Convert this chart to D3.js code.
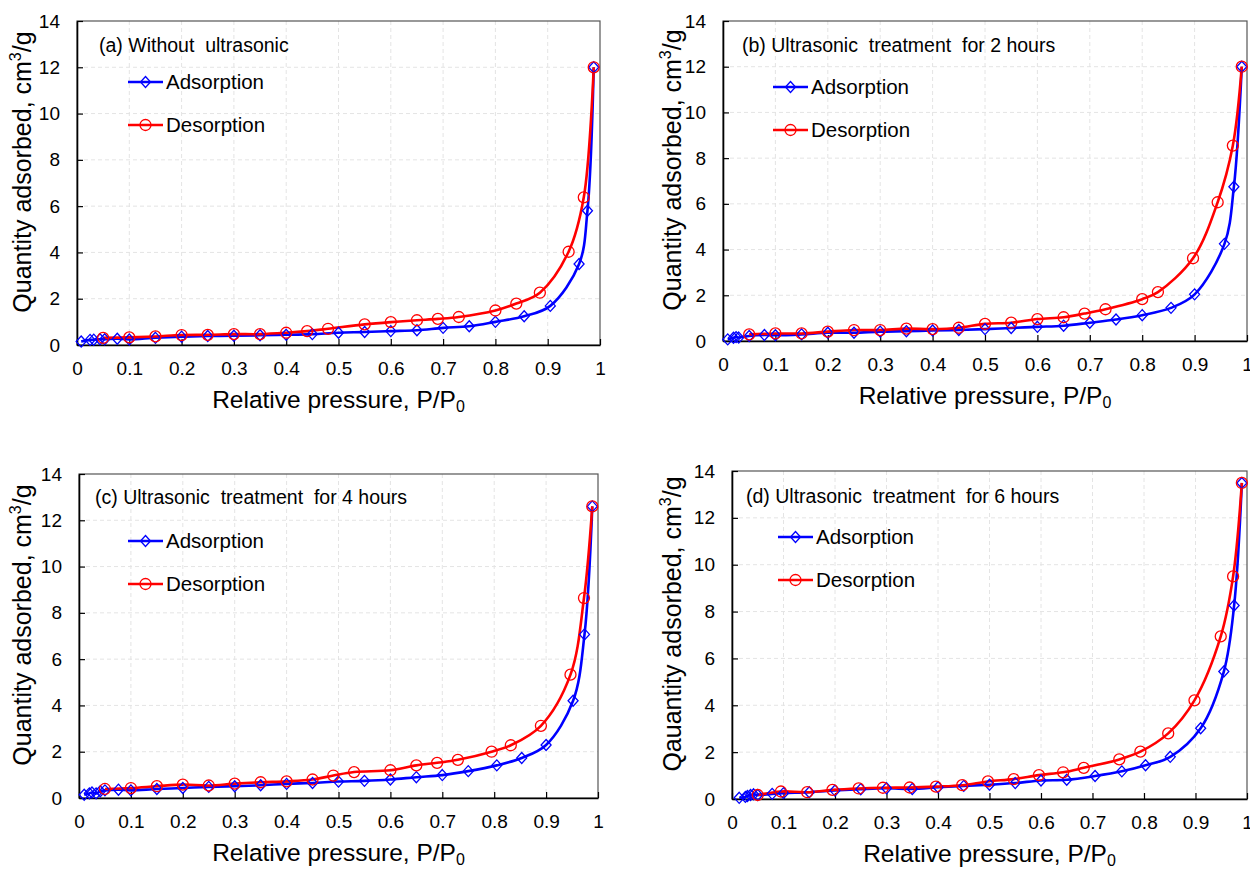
<!DOCTYPE html>
<html>
<head>
<meta charset="utf-8">
<script src="https://cdn.jsdelivr.net/npm/d3@7"></script>
<style>
  body { margin: 0; background: #fff; }
  svg { font-family: Arial, "Liberation Sans", sans-serif; }
  .grid line { stroke: #e4e4e4; stroke-width: 1; stroke-dasharray: 4 3; }
</style>
</head>
<body>
<svg id="chart" width="1250" height="869"></svg>
<script>
// 數據：每個面板的吸附/脫附 [P/P0, 吸附量]
const adsA = [[0.008,0.15],[0.025,0.22],[0.032,0.23],[0.044,0.25],[0.053,0.25],[0.077,0.27],[0.10,0.24],[0.15,0.31],[0.20,0.36],[0.25,0.39],[0.30,0.40],[0.35,0.42],[0.40,0.44],[0.45,0.47],[0.50,0.53],[0.55,0.56],[0.60,0.60],[0.65,0.64],[0.70,0.74],[0.75,0.81],[0.80,1.00],[0.855,1.24],[0.905,1.69],[0.96,3.5],[0.976,5.8],[0.988,12.0]];
const desA = [[0.988,12.0],[0.969,6.38],[0.94,4.03],[0.885,2.26],[0.84,1.79],[0.80,1.49],[0.73,1.21],[0.69,1.13],[0.65,1.07],[0.60,0.99],[0.55,0.89],[0.48,0.70],[0.44,0.60],[0.40,0.53],[0.35,0.47],[0.30,0.47],[0.25,0.44],[0.20,0.43],[0.15,0.37],[0.10,0.33],[0.05,0.31]];

const adsB = [[0.009,0.07],[0.02,0.14],[0.025,0.17],[0.03,0.15],[0.05,0.22],[0.079,0.26],[0.10,0.25],[0.15,0.29],[0.20,0.36],[0.25,0.36],[0.30,0.41],[0.35,0.43],[0.40,0.46],[0.45,0.48],[0.50,0.52],[0.55,0.57],[0.60,0.62],[0.65,0.67],[0.70,0.80],[0.75,0.94],[0.80,1.13],[0.855,1.45],[0.90,2.04],[0.957,4.25],[0.975,6.75],[0.99,12.0]];
const desB = [[0.99,12.0],[0.973,8.55],[0.944,6.07],[0.897,3.62],[0.83,2.14],[0.80,1.83],[0.73,1.39],[0.69,1.20],[0.65,1.04],[0.60,0.96],[0.55,0.80],[0.50,0.75],[0.45,0.58],[0.40,0.52],[0.35,0.54],[0.30,0.48],[0.25,0.48],[0.20,0.41],[0.15,0.33],[0.10,0.33],[0.05,0.29]];

const adsC = [[0.01,0.14],[0.02,0.20],[0.025,0.24],[0.033,0.20],[0.041,0.29],[0.05,0.33],[0.076,0.36],[0.10,0.33],[0.15,0.39],[0.20,0.43],[0.25,0.48],[0.30,0.51],[0.35,0.55],[0.40,0.61],[0.45,0.65],[0.50,0.71],[0.55,0.74],[0.60,0.80],[0.65,0.90],[0.70,0.99],[0.75,1.16],[0.805,1.41],[0.853,1.73],[0.90,2.29],[0.952,4.2],[0.974,7.07],[0.989,12.6]];
const desC = [[0.989,12.6],[0.973,8.64],[0.947,5.33],[0.89,3.12],[0.832,2.28],[0.795,2.0],[0.73,1.65],[0.69,1.52],[0.65,1.41],[0.60,1.20],[0.53,1.12],[0.49,0.97],[0.45,0.80],[0.40,0.72],[0.35,0.68],[0.30,0.62],[0.25,0.54],[0.20,0.58],[0.15,0.51],[0.10,0.43],[0.05,0.39]];

const adsD = [[0.014,0.05],[0.026,0.09],[0.03,0.13],[0.036,0.17],[0.042,0.20],[0.05,0.17],[0.078,0.22],[0.10,0.25],[0.15,0.29],[0.20,0.36],[0.25,0.42],[0.30,0.46],[0.35,0.43],[0.40,0.50],[0.45,0.56],[0.50,0.61],[0.55,0.68],[0.60,0.79],[0.65,0.82],[0.705,0.98],[0.757,1.18],[0.803,1.44],[0.851,1.80],[0.91,3.02],[0.955,5.44],[0.975,8.26],[0.99,13.49]];
const desD = [[0.99,13.49],[0.973,9.5],[0.949,6.94],[0.898,4.21],[0.847,2.8],[0.793,2.02],[0.752,1.69],[0.683,1.33],[0.643,1.14],[0.596,1.02],[0.547,0.85],[0.497,0.75],[0.447,0.59],[0.396,0.53],[0.345,0.49],[0.293,0.48],[0.246,0.45],[0.195,0.39],[0.146,0.29],[0.095,0.32],[0.05,0.17]];

const panelTitles = ["(a) Without  ultrasonic", "(b) Ultrasonic  treatment  for 2 hours",
                     "(c) Ultrasonic  treatment  for 4 hours", "(d) Ultrasonic  treatment  for 6 hours"];
const yTitleWords = ["Quantity adsorbed, cm", "Quantity adsorbed, cm", "Quantity adsorbed, cm", "Qauantity adsorbed, cm"];
const seriesNames = ["Adsorption", "Desorption"];
const xTickValues = [0, 0.1, 0.2, 0.3, 0.4, 0.5, 0.6, 0.7, 0.8, 0.9, 1];
const yTickValues = [0, 2, 4, 6, 8, 10, 12, 14];

// 版面：繪圖區位置、標題與圖例的位置
const layout = [
    { left: 77,  right: 600,  top: 21,  bottom: 345, ads: adsA, des: desA,
      titleX: 99,  titleY: 52,  legX: 128, legY: 82,  yTitleX: 31 },
    { left: 723, right: 1247, top: 21,  bottom: 341, ads: adsB, des: desB,
      titleX: 742, titleY: 52,  legX: 773, legY: 87,  yTitleX: 681 },
    { left: 79,  right: 598,  top: 474, bottom: 798, ads: adsC, des: desC,
      titleX: 95,  titleY: 504, legX: 128, legY: 541, yTitleX: 31 },
    { left: 732, right: 1247, top: 471, bottom: 799, ads: adsD, des: desD,
      titleX: 746, titleY: 503, legX: 778, legY: 537, yTitleX: 681 }
];

const BLUE = '#0000ff', RED = '#ff0000';
const svg = d3.select('#chart');
svg.append('rect').attr('width', 1250).attr('height', 869).attr('fill', '#fff');

function drawMarker(g, type, cx, cy, color) {
    if (type === 'diamond') {
        g.append('path')
            .attr('d', `M${cx},${cy - 5.5}L${cx + 5},${cy}L${cx},${cy + 5.5}L${cx - 5},${cy}Z`)
            .attr('fill', 'none').attr('stroke', color).attr('stroke-width', 1.3);
    } else {
        g.append('circle').attr('cx', cx).attr('cy', cy).attr('r', 5.5)
            .attr('fill', 'none').attr('stroke', color).attr('stroke-width', 1.3);
    }
}

layout.forEach((p, i) => {
    const g = svg.append('g');
    const x = d3.scaleLinear().domain([0, 1]).range([p.left, p.right]);
    const y = d3.scaleLinear().domain([0, 14]).range([p.bottom, p.top]);

    // 網格線
    const grid = g.append('g').attr('class', 'grid');
    grid.selectAll('.vx').data(xTickValues.slice(1, -1)).enter().append('line')
        .attr('x1', d => x(d)).attr('x2', d => x(d)).attr('y1', p.top).attr('y2', p.bottom);
    grid.selectAll('.hy').data(yTickValues.slice(1, -1)).enter().append('line')
        .attr('y1', d => y(d)).attr('y2', d => y(d)).attr('x1', p.left).attr('x2', p.right);

    // 外框
    g.append('rect').attr('x', p.left).attr('y', p.top)
        .attr('width', p.right - p.left).attr('height', p.bottom - p.top)
        .attr('fill', 'none').attr('stroke', '#555').attr('stroke-width', 1.2);

    // 座標軸
    const xAxis = g.append('g').attr('transform', `translate(0,${p.bottom})`)
        .call(d3.axisBottom(x).tickValues(xTickValues).tickFormat(d => String(d))
            .tickSizeInner(-6).tickSizeOuter(0).tickPadding(17));
    const yAxis = g.append('g').attr('transform', `translate(${p.left},0)`)
        .call(d3.axisLeft(y).tickValues(yTickValues).tickFormat(d => String(d))
            .tickSizeInner(-6).tickSizeOuter(0).tickPadding(17));
    [xAxis, yAxis].forEach(a => {
        a.select('.domain').attr('stroke', '#000').attr('stroke-width', 1.6);
        a.selectAll('.tick line').attr('stroke', '#000').attr('stroke-width', 1.2);
        a.selectAll('.tick text').attr('font-size', 19).attr('fill', '#000')
            .attr('font-family', 'Arial, "Liberation Sans", sans-serif');
    });

    // 曲線
    const line = d3.line().x(d => x(d[0])).y(d => y(d[1])).curve(d3.curveCatmullRom.alpha(0.5));
    const sets = [
        { data: p.ads, color: BLUE, marker: 'diamond' },
        { data: p.des, color: RED, marker: 'circle' }
    ];
    sets.forEach(s => {
        const sorted = [...s.data].sort((a, b) => a[0] - b[0]);
        g.append('path').datum(sorted).attr('d', line)
            .attr('fill', 'none').attr('stroke', s.color).attr('stroke-width', 2.6);
    });
    sets.forEach(s => {
        s.data.forEach(d => drawMarker(g, s.marker, x(d[0]), y(d[1]), s.color));
    });

    // 面板標題
    g.append('text').attr('x', p.titleX).attr('y', p.titleY)
        .attr('font-size', 19.5).attr('fill', '#000').style('white-space', 'pre')
        .text(panelTitles[i]);

    // 圖例
    sets.forEach((s, k) => {
        const ly = p.legY + k * 43;
        const lx = p.legX;
        g.append('line').attr('x1', lx).attr('x2', lx + 35).attr('y1', ly).attr('y2', ly)
            .attr('stroke', s.color).attr('stroke-width', 2.6);
        drawMarker(g, s.marker, lx + 17.5, ly, s.color);
        g.append('text').attr('x', lx + 38).attr('y', ly).attr('dy', '0.35em')
            .attr('font-size', 20.5).attr('fill', '#000').text(seriesNames[k]);
    });

    // x 軸標題
    const xt = g.append('text').attr('x', (p.left + p.right) / 2).attr('y', p.bottom + 63)
        .attr('text-anchor', 'middle').attr('font-size', 24.5).attr('fill', '#000')
        .style('white-space', 'pre');
    xt.append('tspan').text('Relative pressure, P/P');
    xt.append('tspan').attr('font-size', 16).attr('dy', 4).text('0');

    // y 軸標題
    const cy = (p.top + p.bottom) / 2 - 11;
    const yt = g.append('text')
        .attr('transform', `translate(${p.yTitleX},${cy}) rotate(-90)`)
        .attr('text-anchor', 'middle').attr('font-size', 25).attr('fill', '#000');
    yt.append('tspan').text(yTitleWords[i]);
    yt.append('tspan').attr('font-size', 16).attr('dy', -10).text('3');
    yt.append('tspan').attr('dy', 10).text('/g');
});
</script>
</body>
</html>
